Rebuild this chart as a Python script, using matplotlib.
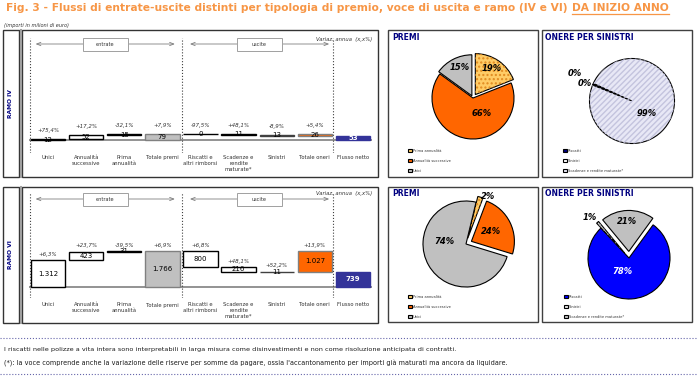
import matplotlib
matplotlib.use("Agg")
import matplotlib.pyplot as plt
from matplotlib.patches import Rectangle, Wedge
from matplotlib.lines import Line2D

# canvas size in pixels (figure saved at dpi 100)
W, H = 697, 381

categories = ["Unici", "Annualità\nsuccessive", "Prima\nannualità", "Totale premi",
              "Riscatti e\naltri rimborsi", "Scadenze e\nrendite\nmaturate*",
              "Sinistri", "Totale oneri", "Flusso netto"]

ramo4_values = [12, 52, 15, 79, 0, 11, 13, 26, 53]
ramo4_var = ["+75,4%", "+17,2%", "-32,1%", "+7,9%", "-97,5%", "+48,1%", "-8,9%", "+5,4%", ""]

ramo6_values = [1312, 423, 31, 1766, 800, 216, 11, 1027, 739]
ramo6_var = ["+6,3%", "+23,7%", "-39,5%", "+6,9%", "+6,8%", "+48,1%", "+52,2%", "+13,9%", ""]

premi_labels = ["Prima annualità", "Annualità successive", "Unici"]
premi4_shares = [19, 66, 15]
premi6_shares = [2, 24, 74]

oneri_labels = ["Riscatti", "Sinistri", "Scadenze e rendite maturate*"]
oneri4_shares = [0.3, 0.4, 99.3]
oneri6_shares = [78, 1, 21]

title_main = "Fig. 3 - Flussi di entrate-uscite distinti per tipologia di premio, voce di uscita e ramo (IV e VI)"
title_tail = "DA INIZIO ANNO"
footnotes = [
    "I riscatti nelle polizze a vita intera sono interpretabili in larga misura come disinvestimenti e non come risoluzione anticipata di contratti.",
    "(*): la voce comprende anche la variazione delle riserve per somme da pagare, ossia l'accantonamento per importi già maturati ma ancora da liquidare.",
]

# bar styles
bar_face = ["white", "white", "white", "#C0C0C0", "white", "white", "#B0B0B0", "#FF6600", "#333399"]
bar_edge = ["black", "black", "black", "#808080", "black", "black", "#404040", "#808080", "#333399"]
ORANGE = "#F79646"
NAVY = "#000080"

fig = plt.figure(figsize=(W / 100, H / 100), dpi=100)
renderer = fig.canvas.get_renderer()


def fig_rect(x0, y0, x1, y1):
    return [x0 / W, 1 - y1 / H, (x1 - x0) / W, (y1 - y0) / H]


def box(x0, y0, x1, y1, ec="#333333", lw=1.0):
    fig.add_artist(Rectangle((x0 / W, 1 - y1 / H), (x1 - x0) / W, (y1 - y0) / H,
                             transform=fig.transFigure, fill=False, ec=ec, lw=lw))


def hline(x0, x1, y, **kw):
    fig.add_artist(Line2D([x0 / W, x1 / W], [1 - y / H, 1 - y / H], transform=fig.transFigure, **kw))


def fit_width(t, width_px):
    w = t.get_window_extent(renderer).width
    t.set_fontsize(t.get_fontsize() * width_px / w)


def fmt(v):
    return f"{v:,}".replace(",", ".")


def waterfall_spans(values):
    spans, level = [], 0
    for v in values[:3]:
        spans.append((level, v))
        level += v
    spans.append((0, values[3]))
    level = values[3]
    for v in values[4:7]:
        level -= v
        spans.append((level, v))
    spans.append((values[3] - values[7], values[7]))
    spans.append((0, values[8]))
    return spans


def waterfall(top, base, bottom, values, variations, scale, var_off):
    ax = fig.add_axes(fig_rect(29, top, 372, bottom))
    ax.set_xlim(-0.5, 8.5)
    ax.set_ylim(-(bottom - base) / scale, (base - top) / scale)
    spans = waterfall_spans(values)
    x = list(range(len(values)))
    ax.axhline(0, color="#808080", lw=1.2, zorder=1)
    ax.bar(x, [s[1] for s in spans], bottom=[s[0] for s in spans], width=0.9,
           color=bar_face, edgecolor=bar_edge, linewidth=1.0, zorder=2)
    for i, ((b, h), v, var) in enumerate(zip(spans, values, variations)):
        last = i == len(values) - 1
        ax.text(i, b + h / 2, fmt(v), ha="center", va="center", fontsize=5,
                color="white" if last else "black", fontweight="bold" if last else "normal", zorder=3)
        if var:
            ax.annotate(var, (i, b + h), xytext=(0, var_off), textcoords="offset points",
                        ha="center", va="center", fontsize=4, style="italic", color="#333333")
    for xv in (-0.47, 3.52, 7.48):
        ax.axvline(xv, color="#404040", ls=":", lw=0.8)
    # entrate / uscite arrows and boxes
    h_px = bottom - top
    ya = 1 - 6 / h_px
    tr = ax.get_xaxis_transform()
    for (a, b), name in (((-0.4, 3.4), "entrate"), ((3.65, 7.45), "uscite")):
        ax.annotate("", xy=(a, ya), xytext=(b, ya), xycoords=tr, textcoords=tr,
                    arrowprops=dict(arrowstyle="<->,head_length=0.3,head_width=0.12", color="#808080", lw=0.6))
        mid = (a + b) / 2
        ax.add_patch(Rectangle((mid - 0.59, 1 - 13 / h_px), 1.18, 13 / h_px, transform=tr,
                               facecolor="white", edgecolor="#A0A0A0", lw=0.7, zorder=3))
        ax.text(mid, 1 - 6.5 / h_px, name, transform=tr, ha="center", va="center",
                fontsize=3.6, color="#333333", zorder=4)
    ax.text(1.0, 1 - 1 / h_px, "Variaz. annua  (x,x%)", transform=ax.transAxes,
            ha="right", va="center", fontsize=3.8, style="italic", color="#333333")
    ax.set_xticks(x)
    ax.set_xticklabels(categories, fontsize=3.8, color="#333333", linespacing=1.2)
    pad_px = 18 - (bottom - base) - 2.5
    ax.tick_params(axis="x", length=0, pad=pad_px * 0.72)
    ax.set_yticks([])
    for s in ax.spines.values():
        s.set_visible(False)
    ax.patch.set_visible(False)
    return ax


def draw_pie(cx, cy, R, shares, colors, start, explode, offsets, text_colors,
             labels, legend_xy, hatches):
    ax = fig.add_axes(fig_rect(cx - 1.5 * R, cy - 1.5 * R, cx + 1.5 * R, cy + 1.5 * R))
    wedges, _, autotexts = ax.pie(shares, colors=colors, startangle=start, counterclock=False,
                                  explode=explode, autopct="%.0f%%",
                                  wedgeprops=dict(edgecolor="black", linewidth=0.8),
                                  textprops=dict(fontsize=6, fontweight="bold", fontstyle="italic"))
    ax.set_xlim(-1.5, 1.5)
    ax.set_ylim(-1.5, 1.5)
    for t, (dx, dy), c in zip(autotexts, offsets, text_colors):
        t.set_position((dx / R, -dy / R))
        t.set_color(c)
        t.set_zorder(5)
    for w, hatch in zip(wedges, hatches):
        if hatch:
            pat, hc = hatch
            ax.add_patch(Wedge(w.center, w.r, w.theta1, w.theta2, fill=False,
                               hatch=pat, edgecolor=hc, lw=0, zorder=w.get_zorder() + 0.1))
    lx, ly = legend_xy
    ax.legend(wedges, labels, loc="upper left", bbox_to_anchor=(lx / W, 1 - ly / H),
              bbox_transform=fig.transFigure, fontsize=2.6, frameon=False, handlelength=1.0,
              handleheight=1.0, labelspacing=1.6, handletextpad=0.4, borderpad=0,
              borderaxespad=0, labelcolor="#333333")
    return ax


# title
t1 = fig.text(6 / W, 1 - 8 / H, title_main, fontsize=7, fontweight="bold", color=ORANGE, va="center")
fit_width(t1, 561)
t2 = fig.text(572 / W, 1 - 8 / H, title_tail, fontsize=t1.get_fontsize(), fontweight="bold",
              color=ORANGE, va="center")
bb = t2.get_window_extent(renderer)
hline(bb.x0, bb.x1, 13.5, color=ORANGE, lw=0.9)

t = fig.text(4 / W, 1 - 25 / H, "(importi in milioni di euro)", fontsize=3.2, style="italic",
             color="#333333", va="center")
fit_width(t, 64)

# panel frames
for y0, y1, name in ((30, 177, "RAMO IV"), (187, 323, "RAMO VI")):
    box(3, y0, 19, y1)
    box(22, y0, 378, y1)
    fig.add_artist(Line2D([20.5 / W] * 2, [1 - y0 / H, 1 - y1 / H], transform=fig.transFigure,
                          color="#A0A0A0", lw=1.5))
    fig.text(11 / W, 1 - (y0 + y1) / 2 / H, name, rotation=90, ha="center", va="center",
             fontsize=4.3, fontweight="bold", color=NAVY)
for x0, x1 in ((388, 538), (542, 692)):
    box(x0, 30, x1, 177, ec="#404040")
    box(x0, 187, x1, 322, ec="#404040")
for x, y, s in ((392, 38, "PREMI"), (545, 38, "ONERE PER SINISTRI"),
                (392, 194, "PREMI"), (545, 194, "ONERE PER SINISTRI")):
    fig.text(x / W, 1 - y / H, s, fontsize=5.5, fontweight="bold", color=NAVY, va="center")

# waterfalls
waterfall(38, 140, 153, ramo4_values, ramo4_var, 0.075, 6.0)
waterfall(193, 287, 298, ramo6_values, ramo6_var, 0.0204, 4.3)

# pies
premi_colors = ["#FFCC66", "#FF6600", "#C0C0C0"]
draw_pie(473, 98, 41, premi4_shares, premi_colors, 90, [0.1, 0, 0.06],
         [(19, -30), (9, 15), (-13, -31)], ["black"] * 3, premi_labels, (408, 149),
         [("....", "#E08A20"), None, None])
draw_pie(632, 101, 42.5, oneri4_shares, ["#000080", "#FFFFFF", "#E8E8F6"], 158, [0, 0, 0],
         [(-57, -27), (-47, -17), (15, 13)], ["black"] * 3, oneri_labels, (563, 149),
         [None, None, ("//////", "#C4C4DE")])
draw_pie(466, 244, 43, premi6_shares, premi_colors, 76.5, [0.14, 0.14, 0],
         [(22, -47), (25, -12), (-22, -2)], ["black"] * 3, premi_labels, (408, 295),
         [("....", "#E08A20"), None, None])
draw_pie(629, 258, 41, oneri6_shares, ["#0000FF", "#E0E0E0", "#C0C0C0"], 54, [0, 0.16, 0.16],
         [(-7, 14), (-39, -41), (-2, -37)], ["white", "black", "black"], oneri_labels, (564, 295),
         [None, ("////", "#909090"), None])

# footnotes
hline(0, W, 338, color="#6666AA", ls=":", lw=0.8)
hline(0, W, 374, color="#6666AA", ls=":", lw=0.8)
for y, s, w in ((350, footnotes[0], 448), (363.5, footnotes[1], 501)):
    t = fig.text(4 / W, 1 - y / H, s, fontsize=5, color="#1a1a1a", va="center")
    fit_width(t, w)

fig.savefig("out.png", dpi=100)
